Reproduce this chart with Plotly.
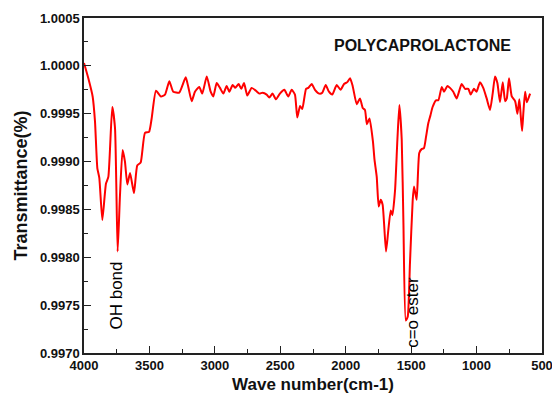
import plotly.graph_objects as go

wavenumber = [4000, 3967, 3934, 3916, 3898, 3883, 3860, 3832, 3814, 3784, 3763, 3743, 3725, 3705,
              3687, 3669, 3648, 3618, 3593, 3567, 3534, 3503, 3483, 3450, 3412, 3381, 3348, 3318,
              3272, 3223, 3203, 3177, 3152, 3119, 3096, 3062, 3032, 3012, 2986, 2961, 2935, 2910,
              2889, 2864, 2844, 2818, 2798, 2777, 2752, 2719, 2686, 2660, 2635, 2604, 2584, 2559,
              2533, 2503, 2469, 2439, 2413, 2388, 2370, 2349, 2332, 2303, 2286, 2260, 2235, 2202,
              2179, 2153, 2128, 2103, 2069, 2039, 2013, 1988, 1967, 1947, 1916, 1891, 1870, 1853,
              1838, 1818, 1792, 1780, 1763, 1748, 1733, 1718, 1692, 1674, 1656, 1643, 1623, 1605,
              1590, 1572, 1559, 1541, 1526, 1509, 1488, 1478, 1458, 1438, 1420, 1402, 1386, 1369,
              1353, 1336, 1310, 1292, 1266, 1249, 1223, 1203, 1178, 1152, 1114, 1088, 1063, 1045,
              1020, 1000, 974, 949, 923, 897, 877, 859, 841, 821, 800, 782, 769, 752, 731, 705,
              688, 673, 662, 652, 642, 629, 616, 591]
transmittance = [1.00003, 0.99987, 0.99968, 0.99942, 0.99893, 0.99883, 0.99839, 0.99877, 0.99884,
                 0.99957, 0.99935, 0.99806, 0.99865, 0.99912, 0.99900, 0.99876, 0.99888, 0.99867,
                 0.99896, 0.99899, 0.99930, 0.99931, 0.99945, 0.99974, 0.99968, 0.99970, 0.99984,
                 0.99973, 0.99972, 0.99988, 0.99978, 0.99963, 0.99973, 0.99978, 0.99971, 0.99989,
                 0.99973, 0.99968, 0.99982, 0.99977, 0.99971, 0.99979, 0.99973, 0.99980, 0.99977,
                 0.99981, 0.99976, 0.99982, 0.99969, 0.99977, 0.99974, 0.99971, 0.99972, 0.99970,
                 0.99967, 0.99971, 0.99965, 0.99971, 0.99975, 0.99968, 0.99975, 0.99970, 0.99946,
                 0.99958, 0.99955, 0.99976, 0.99977, 0.99981, 0.99975, 0.99971, 0.99972, 0.99980,
                 0.99973, 0.99970, 0.99980, 0.99975, 0.99981, 0.99983, 0.99987, 0.99979, 0.99960,
                 0.99966, 0.99956, 0.99954, 0.99939, 0.99945, 0.99921, 0.99902, 0.99884, 0.99853,
                 0.99860, 0.99855, 0.99806, 0.99829, 0.99849, 0.99844, 0.99870, 0.99923, 0.99959,
                 0.99923, 0.99836, 0.99734, 0.99738, 0.99794, 0.99860, 0.99874, 0.99860, 0.99909,
                 0.99913, 0.99914, 0.99926, 0.99940, 0.99948, 0.99957, 0.99964, 0.99964, 0.99978,
                 0.99973, 0.99979, 0.99977, 0.99973, 0.99966, 0.99981, 0.99976, 0.99976, 0.99970,
                 0.99976, 0.99973, 0.99983, 0.99977, 0.99966, 0.99954, 0.99971, 0.99989, 0.99982,
                 0.99962, 0.99983, 0.99963, 0.99966, 0.99987, 0.99968, 0.99963, 0.99950, 0.99965,
                 0.99947, 0.99932, 0.99952, 0.99973, 0.99962, 0.99971]

x_ticks = [4000, 3500, 3000, 2500, 2000, 1500, 1000, 500]
y_ticks = [0.9970, 0.9975, 0.9980, 0.9985, 0.9990, 0.9995, 1.0000, 1.0005]

chart_title = "POLYCAPROLACTONE"
x_label = "Wave number(cm-1)"
y_label = "Transmittance(%)"
peak_labels = ["OH bond", "c=o ester"]
peak_x = [3748, 1486]
peak_y = [0.99760, 0.99743]

FONT = "Liberation Sans, Arial, sans-serif"

fig = go.Figure()
fig.add_trace(go.Scatter(
    x=wavenumber, y=transmittance, mode="lines",
    line=dict(color="#ff0000", width=2, shape="spline", smoothing=0.5),
    showlegend=False, hoverinfo="skip"))

for lbl, px, py in zip(peak_labels, peak_x, peak_y):
    fig.add_annotation(x=px, y=py, xref="x", yref="y", text=lbl, showarrow=False,
                       textangle=-90, font=dict(family=FONT, size=17, color="#000"))

fig.add_annotation(xref="paper", yref="paper", x=(422 - 84) / 458, y=(353 - 45) / 335,
                   xanchor="center", yanchor="middle", text="<b>%s</b>" % chart_title,
                   showarrow=False, font=dict(family=FONT, size=16, color="#111"))

axis_common = dict(
    showline=True, linecolor="#222", linewidth=1.5, mirror=True,
    ticks="inside", ticklen=7, tickwidth=1.3, tickcolor="#222",
    showgrid=False, zeroline=False, automargin=False, ticklabeloverflow="allow",
    tickfont=dict(family=FONT, size=13, color="#111", weight="bold"),
)

fig.update_xaxes(
    range=[4000, 500], tickvals=x_ticks, ticktext=[str(v) for v in x_ticks],
    minor=dict(ticks="inside", ticklen=4, tickwidth=1.2, tickcolor="#222", dtick=250, tick0=500),
    title=dict(text=x_label, standoff=6, font=dict(family=FONT, size=17, color="#111", weight="bold")),
    **axis_common)
fig.update_yaxes(
    range=[0.9970, 1.0005], tickvals=y_ticks, ticktext=["%.4f" % v for v in y_ticks],
    minor=dict(ticks="inside", ticklen=4, tickwidth=1.2, tickcolor="#222", dtick=0.00025, tick0=0.997),
    title=dict(text=y_label, standoff=8, font=dict(family=FONT, size=18, color="#111", weight="bold")),
    **axis_common)

fig.update_layout(
    width=552, height=397,
    margin=dict(l=84, r=10, t=18, b=44),
    paper_bgcolor="white", plot_bgcolor="white",
)

fig.write_html("out.html", config={"displayModeBar": False},
               post_script="document.body.style.margin='0';document.body.style.overflow='hidden';")
